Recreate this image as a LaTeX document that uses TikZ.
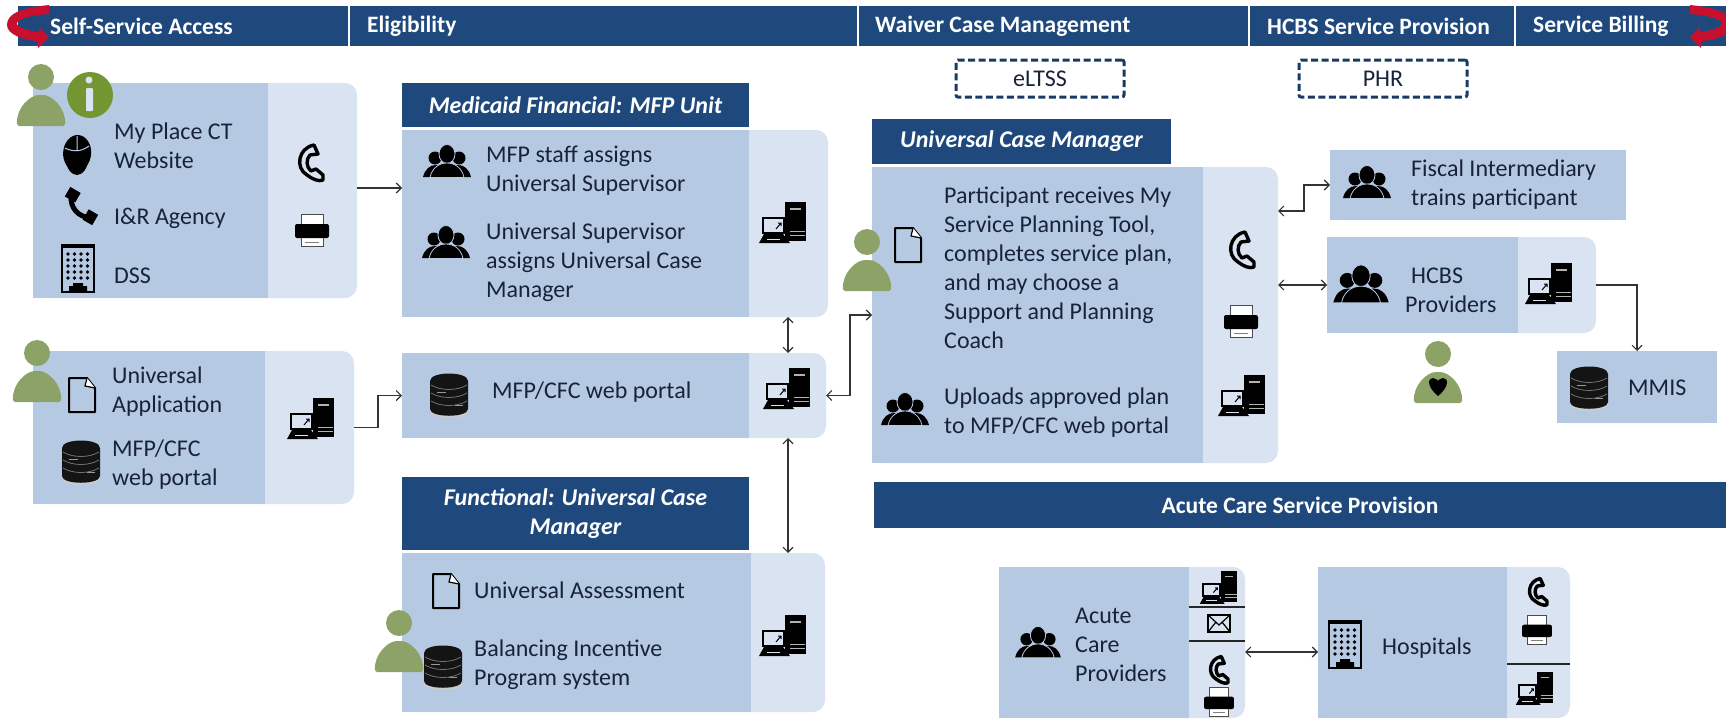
\documentclass[tikz,border=0pt]{standalone}
\usepackage{fontspec}
\setmainfont{Carlito}
\usetikzlibrary{arrows.meta}
\definecolor{navy}{HTML}{1F497D}
\definecolor{boxdark}{HTML}{B6C9E3}
\definecolor{boxlight}{HTML}{DAE3F1}
\definecolor{figgreen}{HTML}{8CA266}
\definecolor{infogreen}{HTML}{739632}
\definecolor{txtdark}{HTML}{18233A}
\definecolor{ribbon}{HTML}{C8102E}
\tikzset{
	lightbox/.style={fill=boxlight,rounded corners=12pt,inner sep=0pt,outer sep=0pt},
	darkbox/.style={fill=boxdark,inner sep=0pt,outer sep=0pt},
	barcell/.style={fill=navy,draw=white,line width=1.5pt,inner sep=0pt,outer sep=0pt,minimum height=41pt},
	barlabel/.style={text=white,font=\bfseries\fontsize{23.5}{28}\selectfont,anchor=west,inner sep=0pt},
	headcell/.style={fill=navy,text=white,font=\bfseries\itshape\fontsize{24}{29}\selectfont,align=center,inner sep=0pt,outer sep=0pt},
	dashbox/.style={draw=navy!80!black,line width=3pt,dash pattern=on 7pt off 3.5pt,rounded corners=2pt,minimum width=168pt,minimum height=37pt,inner sep=0pt,text=txtdark,font=\fontsize{24}{29}\selectfont},
	lbl/.style={anchor=west,align=left,inner sep=0pt,text=txtdark,font=\fontsize{24}{29}\selectfont},
	link/.style={draw=black!80,line width=1.1pt,{Straight Barb[length=5pt,width=10pt]}-{Straight Barb[length=5pt,width=10pt]}},
	linkto/.style={draw=black!80,line width=1.1pt,-{Straight Barb[length=5pt,width=10pt]}}
}
% panel: name, x1, y1, x2, y2, x of the divide
\def\panel(#1)(#2,#3,#4,#5,#6){
	\node[lightbox,minimum width={(#4-#2)*1pt},minimum height={(#5-#3)*1pt}] (#1) at ({(#2+#4)/2},{(#3+#5)/2}) {};
	\node[darkbox,minimum width={(#6-#2)*1pt},minimum height={(#5-#3)*1pt}] (#1d) at ({(#2+#6)/2},{(#3+#5)/2}) {};
}
\def\iconperson(#1,#2){\begin{scope}[shift={(#1,#2)}]
	\fill[figgreen] (0,0) circle (13);
	\fill[figgreen,rounded corners=2pt] (-24,49) .. controls (-25,31) and (-11,18) .. (0,18) .. controls (11,18) and (25,31) .. (24,49) -- cycle;
\end{scope}}
\def\iconpeople[#1](#2,#3){\begin{scope}[shift={(#2,#3)},#1]
	\fill (-12,-4) circle (6.5);
	\fill (12,-4) circle (6.5);
	\fill (-24,15) .. controls (-22,7) and (-17,3) .. (-11,3) .. controls (-5,3) and (0,7) .. (0,15) -- cycle;
	\fill (24,15) .. controls (22,7) and (17,3) .. (11,3) .. controls (5,3) and (0,7) .. (0,15) -- cycle;
	\filldraw[draw=boxdark,line width=0.8pt] (0,-8) ellipse (8 and 9.5);
	\filldraw[draw=boxdark,line width=0.8pt] (-17,15.5) .. controls (-15,6) and (-8,1) .. (0,1) .. controls (8,1) and (15,6) .. (17,15.5) -- cycle;
\end{scope}}
\def\iconhandset[#1](#2,#3){\begin{scope}[shift={(#2,#3)},#1]
	\draw[line width=3.4pt,line join=round] (3,-18) .. controls (-13,-15) and (-16,5) .. (-4,12) .. controls (1,16) and (8,19) .. (12,17) -- (12,12) -- (5,6) -- (0,8) .. controls (-5,4) and (-5,-4) .. (-1,-8) -- (7,-9) -- (3,-18) -- cycle;
\end{scope}}
\def\iconprinter[#1](#2,#3){\begin{scope}[shift={(#2,#3)},#1]
	\filldraw[draw=black!70,fill=white,line width=1pt] (-11,-16) rectangle (11,-4);
	\filldraw[draw=black!70,fill=white,line width=1pt] (-11,4) rectangle (11,16);
	\fill[rounded corners=2pt] (-17,-6) rectangle (17,8);
	\draw[black!50,line width=1pt] (-7,12) -- (7,12);
\end{scope}}
\def\iconpc[#1](#2,#3){\begin{scope}[shift={(#2,#3)},#1]
	\fill (2,-20) rectangle (23,19);
	\draw[white!70!black,line width=1.2pt] (7,-13) -- (18,-13);
	\draw[white!70!black,line width=1pt] (7,9) -- (22,9) (7,13) -- (22,13);
	\filldraw[fill=boxlight,line width=2pt] (-20,-4) rectangle (1,11);
	\draw[line width=1pt] (-7,7) -- (-2,1) (-5,1) -- (-2,1) -- (-2,4);
	\fill (-19,12) -- (0,12) -- (7,21) -- (-24,21) -- cycle;
	\draw[boxlight,line width=0.8pt] (-16,17) -- (-3,17);
\end{scope}}
\def\icondb[#1](#2,#3){\begin{scope}[shift={(#2,#3)},#1]
	\fill[black!20] (-18,16) -- (-18,19) .. controls (-10,24) and (10,24) .. (18,19) -- (18,16) -- cycle;
	\fill[black!92] (-19,-14) .. controls (-19,-24) and (19,-24) .. (19,-14) -- (19,14) .. controls (19,23) and (-19,23) .. (-19,14) -- cycle;
	\draw[black!55,line width=0.8pt] (-18,-10) .. controls (-8,-4) and (8,-4) .. (18,-10) (-18,-2) .. controls (-8,4) and (8,4) .. (18,-2) (-18,6) .. controls (-8,12) and (8,12) .. (18,6);
	\draw[black!40,line width=0.7pt] (-12,-3) -- (-3,-3) (6,10) -- (14,10);
\end{scope}}
\def\icondoc[#1](#2,#3){\begin{scope}[shift={(#2,#3)},#1]
	\draw[line width=2pt,line join=round] (-13,-17) -- (5,-17) -- (13,-7) -- (13,17) -- (-13,17) -- cycle;
	\draw[line width=1.2pt,fill=white] (5,-17) -- (3,-9) -- (13,-7);
\end{scope}}
\def\iconbuilding(#1,#2){\begin{scope}[shift={(#1,#2)}]
	\draw[line width=2.2pt] (-16,-23) rectangle (16,23);
	\fill (-17,-25) rectangle (17,-21);
	\foreach \row in {-15,-9,-3,3,9}{\foreach \col in {-10,-3.5,3,9.5}{\fill (\col,\row) circle (1.9);}}
	\fill (-9,23) -- (-9,17) -- (-5,17) -- (-5,14) -- (5,14) -- (5,17) -- (9,17) -- (9,23) -- cycle;
\end{scope}}
\begin{document}
\begin{tikzpicture}[x=1pt,y=-1pt]
	\useasboundingbox (0,0) rectangle (1726,718);
	\clip (0,0) rectangle (1726,718);
	
	% top bar
	\node[barcell,minimum width=332pt] (selfcell) at (183,26) {};
	\node[barcell,minimum width=509pt] (eligcell) at (603.5,26) {};
	\node[barcell,minimum width=391pt] (waivercell) at (1053.5,26) {};
	\node[barcell,minimum width=266pt] (hcbscell) at (1382,26) {};
	\node[barcell,minimum width=213pt] (billcell) at (1621.5,26) {};
	\node[barlabel] (selflabel) at (50,26) {Self-Service Access};
	\node[barlabel] (eliglabel) at (367,26) {Eligibility};
	\node[barlabel] (waiverlabel) at (875,26) {Waiver Case Management};
	\node[barlabel] (hcbslabel) at (1267,26) {HCBS Service Provision};
	\node[barlabel] (billlabel) at (1533,26) {Service Billing};
	\fill[ribbon] (49,5) .. controls (20,8) and (7,14) .. (7,25) .. controls (7,34) and (22,40) .. (38,41) -- (38,48) -- (49,37) -- (39,27) -- (39,32) .. controls (28,31) and (16,27) .. (17,23) .. controls (18,18) and (35,15) .. (49,14) -- cycle;
	\begin{scope}[xshift=1739pt,xscale=-1]
		\fill[ribbon] (49,5) .. controls (20,8) and (7,14) .. (7,25) .. controls (7,34) and (22,40) .. (38,41) -- (38,48) -- (49,37) -- (39,27) -- (39,32) .. controls (28,31) and (16,27) .. (17,23) .. controls (18,18) and (35,15) .. (49,14) -- cycle;
	\end{scope}
	
	\node[dashbox] (eltss) at (1040,78.5) {eLTSS};
	\node[dashbox] (phr) at (1383,78.5) {PHR};
	
	% panels
	\panel(selfpanel)(33,83,357,298,268)
	\panel(apppanel)(33,351,354,504,265)
	\panel(mfppanel)(402,130,828,317,749)
	\panel(portalpanel)(402,353,826,438,749)
	\panel(funcpanel)(402,553,825,712,751)
	\panel(ucmpanel)(872,167,1278,463,1203)
	\panel(fiscalpanel)(1330,150,1626,220,1626)
	\panel(hcbspanel)(1327,237,1596,333,1518)
	\panel(mmispanel)(1557,351,1717,423,1717)
	\panel(acutepanel)(999,567,1245,718,1189)
	\panel(hosppanel)(1318,567,1570,718,1507)
	
	% section heads
	\node[headcell,minimum width=347pt,minimum height=44pt] (mfphead) at (575.5,105) {Medicaid Financial: MFP Unit};
	\node[headcell,minimum width=347pt,minimum height=73pt] (funchead) at (575.5,513.5) {Functional: Universal Case\\Manager};
	\node[headcell,minimum width=299pt,minimum height=45pt] (ucmhead) at (1021.5,141.5) {Universal Case Manager};
	\node[barcell,minimum width=854pt,minimum height=48pt] (acutecell) at (1300,505) {};
	\node[barlabel,anchor=center] (acutelabel) at (acutecell) {Acute Care Service Provision};
	
	% dividers
	\draw[black!85,line width=1.3pt] (acutepaneld.east |- 0,607) -- (acutepanel.east |- 0,607);
	\draw[black!85,line width=1.3pt] (acutepaneld.east |- 0,641) -- (acutepanel.east |- 0,641);
	\draw[black!85,line width=1.3pt] (hosppaneld.east |- 0,664) -- (hosppanel.east |- 0,664);
	
	% connectors
	\coordinate (busx) at (788,0);
	\draw[linkto] ([yshift=2.5pt]selfpanel.east) -- ([yshift=35.5pt]mfppanel.west);
	\draw[linkto] (apppanel.east) -- ++(24,0) |- (portalpanel.west);
	\draw[link] (busx |- mfppanel.south) -- (busx |- portalpanel.north);
	\draw[link] (busx |- portalpanel.south) -- (busx |- funcpanel.north);
	\draw[link] (portalpanel.east) -- ++(24,0) |- (ucmpanel.west);
	\draw[link] ([yshift=104pt]ucmpanel.east) -- ++(26,0) |- (fiscalpanel.west);
	\draw[link] (ucmpanel.east |- hcbspanel.west) -- (hcbspanel.west);
	\draw[linkto] (hcbspanel.east) -| (mmispanel.north);
	\draw[link] ([yshift=-9.5pt]acutepanel.east) -- ([yshift=-9.5pt]hosppanel.west);
	
	% self-service access
	\node[lbl] (sitelabel) at (114,145.5) {My Place CT\\Website};
	\node[lbl] (agencylabel) at (114,218) {I\&R Agency};
	\node[lbl] (dsslabel) at (114,276) {DSS};
	\iconperson(41,77)
	\fill[infogreen] (90,95) circle (23);
	\fill[boxlight] (89,80) circle (3.5);
	\fill[boxlight,rounded corners=1pt] (86,88) rectangle (93,111);
	\begin{scope}[shift={(77,155)}]
		\fill[rotate=-4] (0,-2) ellipse (14 and 18);
		\fill (-12,2) .. controls (-11,14) and (-5,20) .. (0,20) .. controls (5,20) and (11,14) .. (12,2) -- cycle;
		\draw[boxdark,line width=1pt] (-12,-7) .. controls (-4,-3) and (4,-3) .. (12,-9) (0,-19) -- (0,-5);
	\end{scope}
	\draw[line width=5pt] (71,195) .. controls (70,208) and (78,217) .. (91,218);
	\fill[rotate around={-30:(72,196)}] (66,189) rectangle (78,200);
	\fill[rotate around={-30:(90,217)}] (85,211) rectangle (96,223);
	\iconbuilding(78,269)
	\iconhandset[](311,163)
	\iconprinter[](312,230)
	
	\node[lbl] (applabel) at (112,391.5) {Universal\\Application};
	\node[lbl] (weblabel) at (112,464.5) {MFP/CFC\\web portal};
	\iconperson(37,353)
	\icondoc[](82,395)
	\icondb[](81,462)
	\iconpc[](311,418)
	
	% eligibility
	\node[lbl] (stafflabel) at (486,170.5) {MFP staff assigns\\Universal Supervisor};
	\node[lbl] (supvlabel) at (486,262.5) {Universal Supervisor\\assigns Universal Case\\Manager};
	\iconpeople[](447,162)
	\iconpeople[](446,243)
	\iconpc[](783,222)
	
	\node[lbl] (portallabel) at (492,392) {MFP/CFC web portal};
	\icondb[](449,395)
	\iconpc[](787,388)
	
	\node[lbl] (assesslabel) at (474,590) {Universal Assessment};
	\node[lbl] (biplabel) at (474,665) {Balancing Incentive\\Program system};
	\icondoc[](446,591)
	\icondb[](443,667)
	\iconperson(399,623)
	\iconpc[](783,635)
	
	% case management
	\node[lbl] (planlabel) at (944,267.5) {Participant receives My\\Service Planning Tool,\\completes service plan,\\and may choose a\\Support and Planning\\Coach};
	\node[lbl] (uploadlabel) at (944,412.5) {Uploads approved plan\\to MFP/CFC web portal};
	\iconperson(867,242)
	\icondoc[](908,245)
	\iconpeople[](905,410)
	\iconhandset[](1242,250)
	\iconprinter[](1241,321)
	\iconpc[](1242,395)
	
	% service provision
	\node[lbl] (fiscallabel) at (1411,185) {Fiscal Intermediary\\trains participant};
	\iconpeople[](1367,183)
	\node[lbl] (hcbslbl) at (1405,290.5) {\hspace*{6pt}HCBS\\Providers};
	\iconpeople[scale=1.15](1361,285)
	\iconpc[](1549,283)
	\iconperson(1438,354)
	\fill (1438,396) .. controls (1426,386) and (1428,378) .. (1433,378) .. controls (1436,378) and (1438,381) .. (1438,381) .. controls (1438,381) and (1440,378) .. (1443,378) .. controls (1448,378) and (1450,386) .. (1438,396) -- cycle;
	\node[lbl] (mmislabel) at (1628,388) {MMIS};
	\icondb[](1589,388)
	
	% acute care
	\node[lbl] (acutetext) at (1075,645) {Acute\\Care\\Providers};
	\iconpeople[scale=0.95](1038,643)
	\iconpc[scale=0.8](1219,587)
	\draw[line width=1.6pt] (1208,615) rectangle (1230,632);
	\draw[line width=1.2pt] (1208,615) -- (1219,625) -- (1230,615) (1208,632) -- (1216,622) (1230,632) -- (1222,622);
	\iconhandset[scale=0.75](1219,670)
	\iconprinter[scale=0.88](1219,702)
	
	\node[lbl] (hosplabel) at (1382,648) {Hospitals};
	\iconbuilding(1345,645)
	\iconhandset[scale=0.75](1538,592)
	\iconprinter[scale=0.88](1537,630)
	\iconpc[scale=0.8](1535,688)
\end{tikzpicture}
\end{document}
